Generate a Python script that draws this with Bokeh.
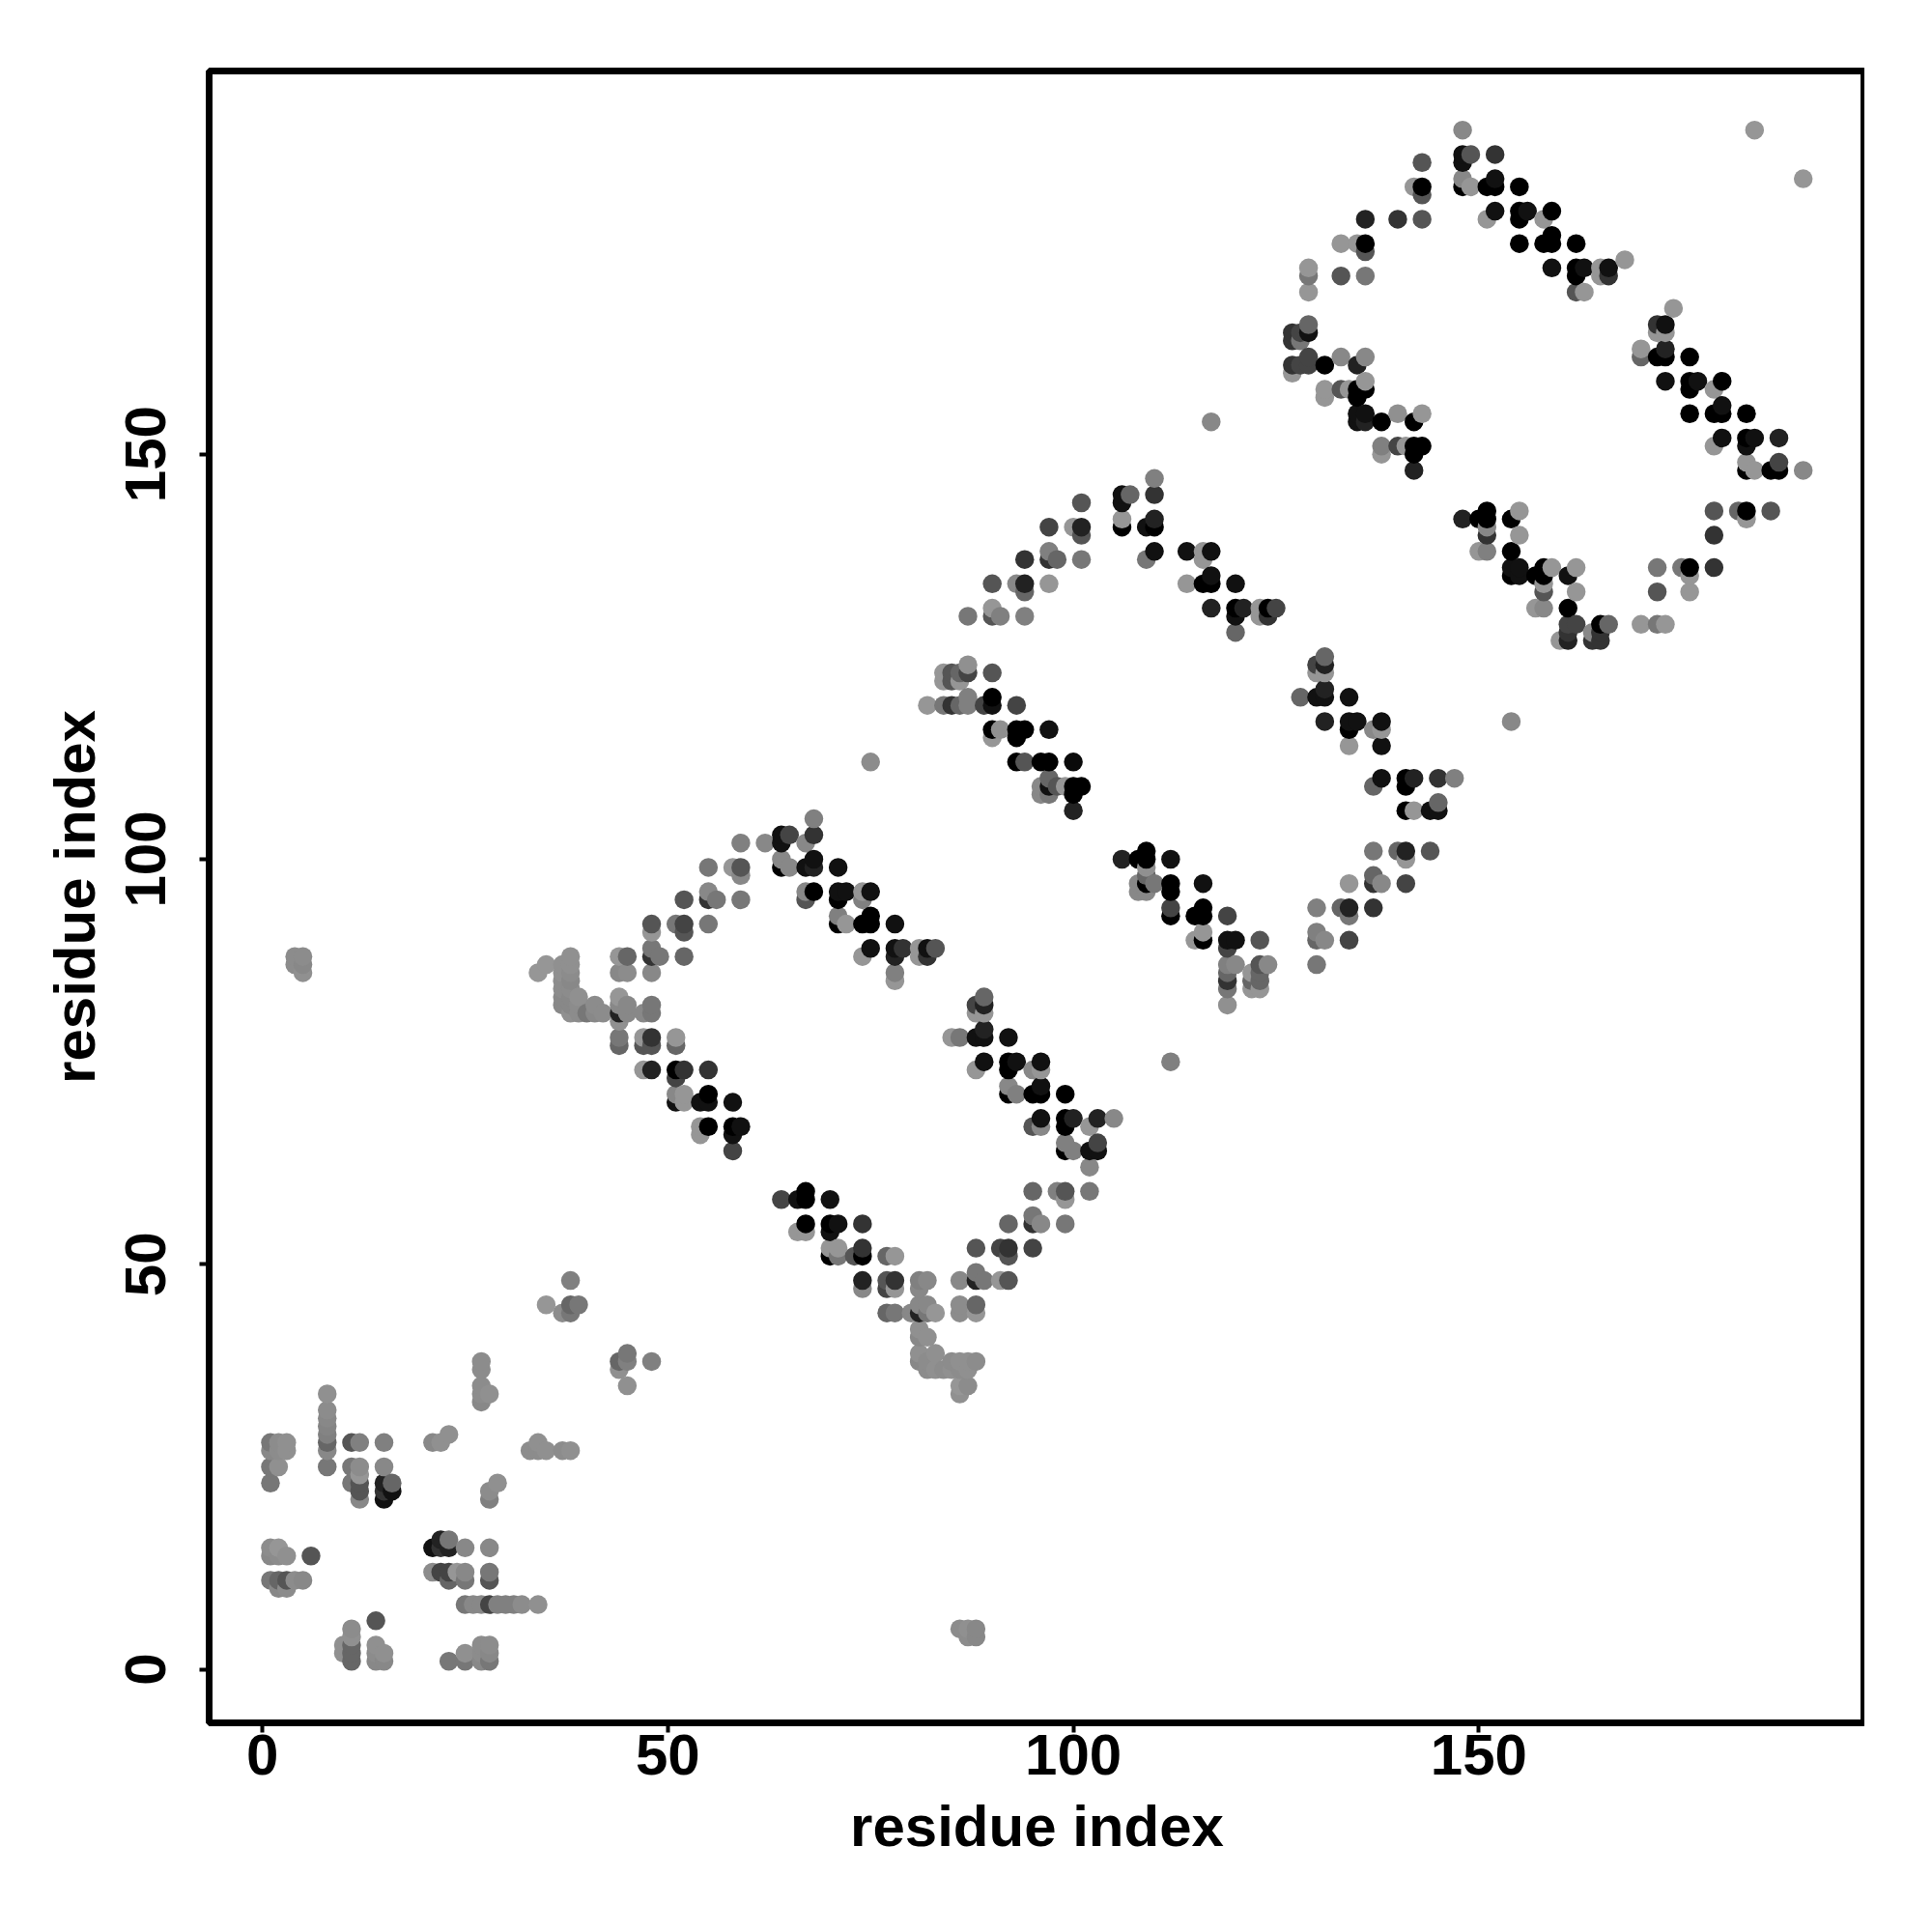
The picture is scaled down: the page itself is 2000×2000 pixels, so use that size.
import pandas as pd
from bokeh.plotting import figure
from bokeh.models import Range1d, FixedTicker, ColumnDataSource
from bokeh.embed import file_html
from bokeh.resources import INLINE

# lower-left clusters (residues 1-16)
a_x = [1,2,3,1,2,3,1,2,1, 8,8,8,8,8,8,8,8, 11,11,11,12,12,12,12,12,12, 15,15,15,15,15,16,16]
a_y = [28,28,28,27,27,27,25,25,23, 34,32,31,30,29,28,27,25, 28,25,23,28,25,24,23,22,21, 28,25,23,22,21,23,22]
a_g = [0x77,0x8c,0x90,0x88,0x8c,0x90,0x77,0x90,0x77, 0x90,0x8c,0x88,0x84,0x80,0x66,0x88,0x77, 0x55,0x77,0x77,0x80,0x8c,0x96,0x55,0x55,0x88, 0x80,0x88,0x22,0x33,0x11,0x66,0x11]

b_x = [1,1,1,2,2,2,2,3,3,3,4,5,6, 10,10,11,11,11,11,11,14,14,14,14,15,15]
b_y = [15,14,11,15,14,11,10,14,11,10,11,11,14, 3,2,5,4,3,2,1,6,3,2,1,2,1]
b_g = [0x8c,0x88,0x77,0x96,0x8c,0x66,0x88,0x90,0x55,0x8c,0x8c,0x88,0x55, 0x90,0x90,0x8c,0x90,0x66,0x66,0x66,0x55,0x90,0x8c,0x88,0x90,0x88]

c_x = [21,21,21,22,22,22,22,23,23,23,23,23,24,25,25,25,25,25,25, 26,27,27,27,28,28,28,28,28,28,28]
c_y = [28,15,12,28,16,15,12,29,16,15,12,11,12,15,12,11,8,2,1, 8,3,2,1,15,12,11,8,3,2,1]
c_g = [0x88,0x11,0x8c,0x90,0x22,0x33,0x44,0x90,0x77,0x22,0x44,0x66,0x96,0x88,0x88,0x77,0x77,0x90,0x77, 0x88,0x8c,0x8c,0x88,0x88,0x77,0x55,0x44,0x8c,0x88,0x77]

d_x = [23,27,27,27,27,27,27,28,28,28,29,29,30,31,32,34, 33,34,34,35,37,38, 35,37,38,38,38,39, 44,44,45,45,45,48]
d_y = [1,38,37,35,34,33,8,34,22,21,23,8,8,8,8,8, 27,28,27,27,27,27, 45,44,45,44,48,45, 38,37,39,38,35,38]
d_g = [0x77,0x8c,0x8c,0x8c,0x8c,0x88,0x88,0x90,0x8c,0x80,0x90,0x80,0x80,0x80,0x8c,0x90, 0x8c,0x90,0x8c,0x90,0x8c,0x90, 0x96,0x8c,0x66,0x77,0x80,0x77, 0x66,0x90,0x77,0x80,0x90,0x80]

# far contacts
e_x = [4,5,4,5,5, 86,87,88,87,88, 117,154,75,112,184,190]
e_y = [88,88,87,87,86, 5,5,5,4,4, 154,117,112,75,190,184]
e_g = [0x8c,0x8c,0x8c,0x88,0x90, 0x8c,0x90,0x88,0x8c,0x88, 0x88,0x88,0x8c,0x80,0x96,0x96]

# first ring, strand crossing near 34-52 / 77-88
f_x = [34,35,37,37,37,37,37,37,38,38,38,38,38,38,38,38,39,39,39,40,41,41,42,44,44,44,44,44,44,45,45,45,45,47,48,48,48,48,48]
f_y = [86,87,87,86,85,84,83,82,88,87,86,85,83,82,81,84,83,82,81,81,82,81,81,88,86,83,82,81,80,88,86,82,81,81,89,88,86,82,81]
f_g = [0x96,0x96,0x90,0x90,0x8c,0x8c,0x88,0x88,0x90,0x90,0x8c,0x88,0x88,0x88,0x90,0x8c,0x90,0x8c,0x8c,0x77,0x8c,0x88,0x8c,0x96,0x88,0x96,0x88,0x22,0x90,0x66,0x8c,0x88,0x88,0x88,0x77,0x33,0x88,0x77,0x77]

g_x = [49,52, 48,51,52,52,55, 55,55,56,59,52, 55,58,59,59, 59,62,64,64,65,67,68,68, 64,64,65, 67,68,68,71]
g_y = [88,88, 92,92,92,91,92, 96,95,95,95,95, 99,99,99,98, 102,102,103,102,103,102,103,105, 100,99,99, 99,100,99,99]
g_g = [0x77,0x66, 0x55,0x77,0x44,0x55,0x77, 0x88,0x33,0x77,0x77,0x55, 0x77,0x96,0x55,0x88, 0x80,0x88,0x11,0x11,0x44,0x88,0x33,0x80, 0x88,0x00,0x88, 0x11,0x11,0x22,0x11]
g2_x = [48]
g2_y = [91]
g2_g = [0x96]

h_x = [67,67,68,71,71,72,74,74,75, 71,71,72,74,75,75,78, 74,75,78,78,79,81,81,82,82,83,78,78]
h_y = [96,95,96,96,95,96,96,95,96, 93,92,92,92,93,92,92, 88,89,89,88,89,89,88,89,88,89,86,85]
h_g = [0x88,0x55,0x00,0x11,0x00,0x11,0x96,0x80,0x11, 0x80,0x00,0x96,0x00,0x00,0x00,0x11, 0x96,0x11,0x11,0x22,0x33,0x96,0x96,0x11,0x33,0x55,0x80,0x96]

i_x = [44,44,47,47,48,48,51,51, 47,48,51,51,52,55, 51,51,52,52,54,55,55,58, 54,54,55,58,58,59,58]
i_y = [78,77,78,77,78,77,78,77, 74,74,74,73,74,74, 71,70,71,70,70,71,70,70, 67,66,67,67,66,67,64]
i_g = [0x77,0x66,0x96,0x55,0x33,0x55,0x96,0x66, 0x96,0x22,0x00,0x44,0x33,0x33, 0x88,0x11,0x96,0x96,0x11,0x00,0x11,0x11, 0x96,0x96,0x00,0x00,0x11,0x11,0x44]

j_x = [85,86,88,88,88,89,89,89,89,89,92, 88,89,92,92,93,95,96,96, 92,92,93,95,96,96,99]
j_y = [78,78,82,81,78,83,82,81,79,78,78, 74,75,75,74,75,74,75,74, 72,71,71,71,72,71,71]
j_g = [0x96,0x77,0x44,0x96,0x11,0x66,0x22,0x96,0x22,0x11,0x11, 0x96,0x11,0x00,0x00,0x11,0x88,0x11,0x96, 0x88,0x00,0x80,0x00,0x11,0x00,0x00]

k_x = [95,96,96,99,99,100,102,103,105, 99,99,100,102,102,103,103]
k_y = [67,68,67,68,67,68,67,68,68, 65,64,64,64,62,65,64]
k_g = [0x55,0x11,0x88,0x00,0x00,0x22,0x96,0x22,0x88, 0x80,0x00,0x80,0x11,0x88,0x44,0x11]

l_x = [95,98,99,99,102, 92,95,95,96,99, 88,91,92,92,95, 86,88,88,89,91,92, 86,88,86,88]
l_y = [59,59,59,58,59, 55,56,55,55,55, 52,52,52,51,52, 48,49,48,48,48,48, 45,45,44,44]
l_g = [0x66,0x80,0x55,0x96,0x77, 0x66,0x77,0x33,0x88,0x77, 0x55,0x44,0x33,0x55,0x44, 0x88,0x77,0x22,0x77,0x96,0x55, 0x8c,0x66,0x8c,0x96]

m_x = [64,66,67,67,70, 67,66,67,70,71,70,74, 70,71,70,71,73,74,74,77,78]
m_y = [58,58,59,58,58, 55,54,54,55,55,54,55, 52,52,51,51,51,52,51,51,51]
m_g = [0x44,0x11,0x00,0x00,0x11, 0x00,0x96,0x96,0x00,0x11,0x11,0x33, 0x96,0x96,0x00,0x77,0x55,0x33,0x00,0x66,0x96]

n_x = [74,74,77,78,77,78,81,82,81, 77,78,80,81,82,81,82,83,81,81,82]
n_y = [48,47,48,48,47,47,48,48,47, 44,44,44,45,45,44,44,44,42,41,41]
n_g = [0x22,0x88,0x55,0x33,0x44,0x96,0x80,0x88,0x88, 0x66,0x77,0x88,0x88,0x88,0x22,0x77,0x96,0x90,0x88,0x90]

o_x = [81,81,83,82,82,83,84,85,85,86,86,87,88,87,87,86,86]
o_y = [39,38,39,38,37,37,37,38,37,38,37,38,38,37,35,35,34]
o_g = [0x90,0x88,0x90,0x8c,0x8c,0x90,0x8c,0x8c,0x90,0x90,0x8c,0x90,0x8c,0x90,0x8c,0x96,0x90]

# second ring
p_x = [84,85,86,87,84,85,86,87,90, 82,84,85,86,87,87,89,90,90,93]
p_y = [123,123,123,123,122,122,122,124,123, 119,119,119,119,120,119,119,120,119,119]
p_g = [0x96,0x55,0x66,0x44,0x96,0x55,0x96,0x90,0x55, 0x96,0x77,0x33,0x66,0x80,0x80,0x44,0x00,0x11,0x44]

q_x = [90,91,90,93,94,93,97, 93,94,96,97,100, 96,97,97,98,99,100,101,100,96,97,100]
q_y = [116,116,115,116,116,115,116, 112,112,112,112,112, 109,110,109,109,109,109,109,108,108,108,106]
q_g = [0x00,0x90,0x96,0x00,0x00,0x00,0x11, 0x00,0x55,0x00,0x00,0x0a, 0x88,0x66,0x11,0x55,0x96,0x00,0x00,0x00,0x88,0x77,0x22]

r_x = [87,90,90,91,94, 90,93,94,94,97, 94,97,97,98,101, 97,100,101,101,101]
r_y = [130,131,130,130,130, 134,134,134,133,134, 137,138,137,137,137, 141,141,141,140,144]
r_g = [0x77,0x96,0x55,0x80,0x80, 0x55,0x88,0x22,0x66,0x96, 0x33,0x80,0x33,0x66,0x77, 0x44,0x96,0x22,0x55,0x55]

s_x = [106,107,106,106,106,109,110,110,110,110,110,109]
s_y = [145,145,144,142,141,141,142,141,145,147,138,137]
s_g = [0x11,0x66,0x11,0x96,0x00,0x11,0x22,0x00,0x33,0x80,0x11,0x77]

t_x = [114,116,117,116, 114,116,117,117,120, 117,120,121,120,123,123,124,124,125,120]
t_y = [138,138,138,137, 134,134,135,134,134, 131,131,131,130,131,130,131,130,131,128]
t_g = [0x11,0x96,0x11,0x96, 0x96,0x00,0x11,0x00,0x11, 0x22,0x00,0x22,0x11,0x96,0x96,0x00,0x33,0x44,0x66]

u_x = [131,130,131,130,131, 128,130,131,131,134]
u_y = [125,124,124,123,123, 120,120,121,120,120]
u_g = [0x66,0x44,0x22,0x96,0x96, 0x66,0x11,0x22,0x11,0x11]

v_x = [131,134,135,134,138,137,138,134,138, 138,137,141,142,141,145,147, 141,142,144,145,145]
v_y = [117,117,117,116,117,116,116,114,114, 110,109,110,110,109,110,110, 106,106,106,107,106]
v_g = [0x22,0x11,0x11,0x00,0x11,0x88,0x96,0x96,0x11, 0x11,0x66,0x00,0x22,0x00,0x33,0x80, 0x00,0x96,0x11,0x66,0x11]

w_x = [137,140,141,141,144, 137,137,138,134,141, 130,133,134,134,137, 130,130,131,134,130]
w_y = [101,101,101,100,101, 98,97,97,97,97, 94,94,94,93,94, 91,90,90,90,87]
w_g = [0x77,0x66,0x22,0x96,0x55, 0x66,0x33,0x88,0x96,0x44, 0x80,0x66,0x22,0x77,0x33, 0x80,0x66,0x88,0x44,0x77]

x_x = [106,108,109,109,112, 109,108,109,109,110,108,109,112,112,112,112, 116,116,115,116,116,119]
x_y = [100,100,101,100,100, 99,97,98,97,97,96,96,97,96,94,93, 97,94,93,93,91,93]
x_g = [0x22,0x00,0x00,0x00,0x11, 0x90,0x88,0x66,0x00,0x77,0x88,0x88,0x00,0x00,0x44,0x00, 0x11,0x00,0x00,0x00,0x96,0x44]

y_x = [115,116,119,120,119,123, 119,120,119,119,119,119, 122,122,122,123,123,123,123,124]
y_y = [90,90,90,90,89,90, 87,87,86,85,84,82, 86,85,84,87,86,85,84,87]
y_g = [0x96,0x00,0x11,0x11,0x44,0x55, 0x80,0x88,0x66,0x33,0x77,0x90, 0x96,0x66,0x96,0x55,0x66,0x66,0x96,0x88]

# third ring
z_x = [129,129,129,133,136,133,135,136,136, 136,140,143,142,143,143, 148,148,149,152,148,148,149]
z_y = [173,172,170,172,172,176,176,176,175, 179,179,179,183,183,182, 190,187,187,187,186,184,183]
z_g = [0x96,0x77,0x96,0x55,0x77,0x96,0x96,0x00,0x55, 0x22,0x33,0x55,0x96,0x00,0x55, 0x88,0x11,0x55,0x33,0x11,0x88,0x96]

aa_x = [143,148,151,152,152,155, 152,151,155,156,155,158,159, 155,158,159,159,162]
aa_y = [186,183,183,184,183,183, 180,179,180,180,179,179,180, 176,176,177,176,176]
aa_g = [0x55,0x00,0x00,0x11,0x00,0x00, 0x11,0x96,0x00,0x11,0x00,0x96,0x00, 0x00,0x00,0x00,0x00,0x00]

ab_x = [159,162,163,162,165,165,166,166,168,162,163]
ab_y = [173,173,173,172,173,172,173,172,174,170,170]
ab_g = [0x11,0x00,0x11,0x00,0x96,0x96,0x11,0x33,0x96,0x55,0x96]

ac_x = [129,127,128,129,127,128, 127,128,129,129,131,127,133,136,135]
ac_y = [166,165,165,165,164,164, 161,161,162,161,161,160,162,162,161]
ac_g = [0x66,0x33,0x44,0x11,0x33,0x77, 0x33,0x44,0x44,0x44,0x00,0x96,0x88,0x88,0x22]

ad_x = [131,131,133,134,136,135,136,135, 135,135,136,136,138,140,142,143]
ad_y = [158,157,158,158,159,158,158,157, 155,154,155,154,154,155,154,155]
ad_g = [0x96,0x96,0x55,0x96,0x96,0x00,0x00,0x00, 0x11,0x11,0x11,0x22,0x00,0x90,0x00,0x96]

ae_x = [138,138,140,141,142,143,142,142]
ae_y = [151,150,151,151,151,151,150,148]
ae_g = [0x80,0x96,0x44,0x96,0x00,0x00,0x00,0x22]

af_x = [174,172,173,172,173,170,170,172,173,173,176]
af_y = [168,166,166,165,165,163,162,162,163,162,162]
af_g = [0x96,0x33,0x11,0x96,0x96,0x96,0x66,0x00,0x22,0x00,0x00]

ag_x = [173,176,177,176,179,180, 176,179,180,180,183]
ag_y = [159,159,159,158,158,159, 155,155,156,155,155]
ag_g = [0x11,0x00,0x11,0x00,0x96,0x00, 0x00,0x00,0x11,0x00,0x00]

ah_x = [180,179,183,184,183,187, 183,183,184,186,187,187,190]
ah_y = [152,151,152,152,151,152, 149,148,148,148,149,148,148]
ah_g = [0x11,0x96,0x00,0x11,0x11,0x22, 0x96,0x00,0x96,0x00,0x44,0x00,0x88]

ai_x = [148,150,151,151,151,151,154,155,155, 150,151,154]
ai_y = [142,142,143,142,141,140,142,143,140, 138,138,138]
ai_g = [0x22,0x00,0x00,0x00,0x88,0x33,0x00,0x96,0x96, 0x96,0x80,0x00]

aj_x = [154,155,154,155,157,158,159,158,158,158, 161,162,162, 157,158,161]
aj_y = [136,136,135,135,135,136,136,135,134,133, 135,136,133, 131,131,131]
aj_g = [0x11,0x11,0x00,0x11,0x00,0x00,0x96,0x00,0x96,0x55, 0x11,0x96,0x96, 0x96,0x88,0x00]

ak_x = [161,162,161,161,160,164,165,166,165,164,165, 170,172,173]
ak_y = [129,129,128,127,127,128,129,129,128,127,127, 129,129,129]
ak_g = [0x44,0x44,0x33,0x22,0x96,0x88,0x00,0x66,0x33,0x33,0x33, 0x96,0x77,0x96]

al_x = [172,176,172,175,176,176,179,179,179,182,183,183,186]
al_y = [133,133,136,136,136,135,136,140,143,143,143,142,143]
al_g = [0x55,0x96,0x77,0x77,0x00,0x96,0x33,0x33,0x55,0x66,0x00,0x96,0x55]

tick_values = [0, 50, 100, 150]
axis_title = "residue index"

names = "a b c d e f g g2 h i j k l m n o p q r s t u v w x y z aa ab ac ad ae af ag ah ai aj ak al".split()
ns = globals()
frames = []
for n in names:
    frames.append(pd.DataFrame({"x": ns[n + "_x"], "y": ns[n + "_y"], "g": ns[n + "_g"]}))
df = pd.concat(frames).drop_duplicates(["x", "y"]).sort_values(["x", "y"])
df["color"] = ["#%02x%02x%02x" % (g, g, g) for g in df["g"]]

p = figure(width=1984, height=1984, output_backend="svg", toolbar_location=None,
           x_range=Range1d(-6.56, 197.6), y_range=Range1d(-6.6, 197.3),
           frame_width=1714, frame_height=1710,
           min_border_left=216, min_border_top=73, min_border_right=0, min_border_bottom=0)
p.scatter("x", "y", source=ColumnDataSource(df), size=19.5, marker="circle",
          fill_color="color", line_color=None)
p.grid.visible = False
p.outline_line_color = "black"
p.outline_line_width = 7
for ax in (p.xaxis[0], p.yaxis[0]):
    ax.ticker = FixedTicker(ticks=tick_values)
    ax.minor_tick_line_color = None
    ax.axis_line_color = None
    ax.major_tick_in = 0
    ax.major_tick_out = 10
    ax.major_tick_line_width = 4
    ax.major_tick_line_color = "black"
    ax.major_label_text_font = "Liberation Sans"
    ax.major_label_text_font_style = "bold"
    ax.major_label_text_font_size = "60px"
    ax.major_label_text_color = "black"
    ax.major_label_standoff = 2
    ax.axis_label = axis_title
    ax.axis_label_text_font = "Liberation Sans"
    ax.axis_label_text_font_style = "bold"
    ax.axis_label_text_font_size = "60px"
    ax.axis_label_text_color = "black"
    ax.axis_label_standoff = 17
p.yaxis[0].major_label_orientation = "vertical"
p.yaxis[0].major_label_standoff = 35
p.yaxis[0].axis_label_standoff = 17

open("out.html", "w").write(file_html(p, INLINE))
